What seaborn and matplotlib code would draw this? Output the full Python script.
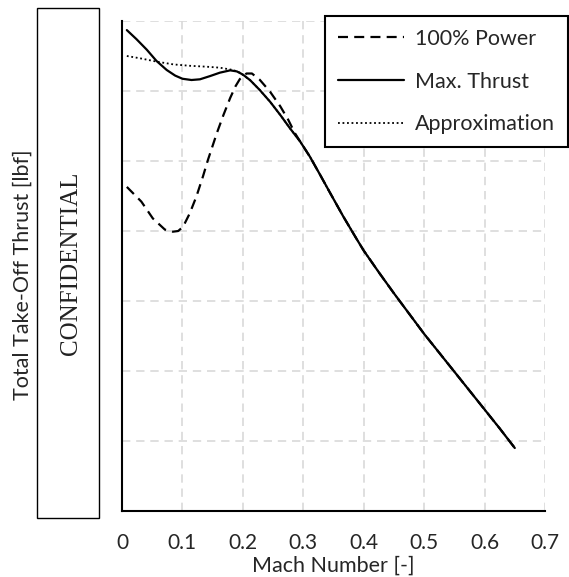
import matplotlib
matplotlib.use("Agg")
import matplotlib.pyplot as plt
from matplotlib.patches import Rectangle
import pandas as pd
import seaborn as sns

# Take-off thrust vs. Mach number (thrust in normalised grid units)
mach_max = [0.008, 0.024, 0.041, 0.057, 0.074, 0.088, 0.100, 0.115, 0.129, 0.146,
            0.162, 0.179, 0.190, 0.200, 0.212, 0.228, 0.245, 0.262, 0.278, 0.295,
            0.311, 0.328, 0.344, 0.366, 0.388, 0.400, 0.425, 0.450, 0.475, 0.500,
            0.525, 0.550, 0.575, 0.600, 0.625, 0.650]
thrust_max = [6.87, 6.74, 6.59, 6.43, 6.30, 6.22, 6.175, 6.157, 6.167, 6.214,
              6.262, 6.295, 6.28, 6.235, 6.155, 6.014, 5.847, 5.657, 5.467, 5.276,
              5.061, 4.80, 4.55, 4.21, 3.89, 3.72, 3.41, 3.11, 2.82, 2.53,
              2.26, 1.99, 1.72, 1.45, 1.18, 0.90]

mach_power = [0.008, 0.032, 0.051, 0.071, 0.084, 0.093, 0.101, 0.112, 0.123, 0.134,
              0.142, 0.157, 0.168, 0.179, 0.188, 0.195, 0.206, 0.215, 0.228, 0.245,
              0.262, 0.275, 0.286, 0.295, 0.311, 0.328, 0.344, 0.366, 0.388, 0.400,
              0.425, 0.450, 0.475, 0.500, 0.525, 0.550, 0.575, 0.600, 0.625, 0.650]
thrust_power = [4.63, 4.42, 4.18, 4.02, 3.99, 4.00, 4.06, 4.25, 4.49, 4.78,
                5.01, 5.40, 5.66, 5.90, 6.07, 6.17, 6.25, 6.25, 6.16, 5.99,
                5.78, 5.59, 5.40, 5.276, 5.061, 4.80, 4.55, 4.21, 3.89, 3.72,
                3.41, 3.11, 2.82, 2.53, 2.26, 1.99, 1.72, 1.45, 1.18, 0.90]

mach_approx = [0.008, 0.030, 0.057, 0.085, 0.1125, 0.140, 0.162, 0.184, 0.195, 0.212,
               0.228, 0.245, 0.262, 0.278, 0.295, 0.311, 0.328, 0.344, 0.366, 0.388,
               0.400, 0.425, 0.450, 0.475, 0.500, 0.525, 0.550, 0.575, 0.600, 0.625,
               0.650]
thrust_approx = [6.50, 6.467, 6.42, 6.38, 6.36, 6.347, 6.333, 6.30, 6.262, 6.155,
                 6.014, 5.847, 5.657, 5.467, 5.276, 5.061, 4.80, 4.55, 4.21, 3.89,
                 3.72, 3.41, 3.11, 2.82, 2.53, 2.26, 1.99, 1.72, 1.45, 1.18,
                 0.90]

x_ticks = [0, 0.1, 0.2, 0.3, 0.4, 0.5, 0.6, 0.7]
x_tick_labels = ["0", "0.1", "0.2", "0.3", "0.4", "0.5", "0.6", "0.7"]
y_grid = [0, 1, 2, 3, 4, 5, 6, 7]

sns.set_style("white")
plt.rcParams["font.family"] = ["Lato", "DejaVu Sans"]

W, H = 569, 577
FS = 15.5
fig = plt.figure(figsize=(W / 100, H / 100), dpi=100)
ax = fig.add_axes([122 / W, 1 - 511 / H, (545 - 122) / W, (511 - 21) / H])

df_power = pd.DataFrame({"Mach": mach_power, "Thrust": thrust_power})
df_max = pd.DataFrame({"Mach": mach_max, "Thrust": thrust_max})
df_approx = pd.DataFrame({"Mach": mach_approx, "Thrust": thrust_approx})

sns.lineplot(data=df_approx, x="Mach", y="Thrust", ax=ax, color="black",
             linewidth=1.3, linestyle=(0, (1, 1.5)), sort=False,
             label="Approximation", zorder=3)
sns.lineplot(data=df_max, x="Mach", y="Thrust", ax=ax, color="black",
             linewidth=1.6, sort=False, label="Max. Thrust", zorder=4)
sns.lineplot(data=df_power, x="Mach", y="Thrust", ax=ax, color="black",
             linewidth=1.6, linestyle=(0, (4.5, 2.8)), sort=False,
             label="100% Power", zorder=5)

ax.set_xlim(0, 0.7)
ax.set_ylim(0, 7)
ax.set_xticks(x_ticks)
ax.set_xticklabels(x_tick_labels)
ax.set_yticks(y_grid)
ax.set_yticklabels([])
ax.tick_params(axis="both", length=0)
ax.tick_params(axis="x", labelsize=15, pad=16)
ax.grid(True, color="#d9d9d9", linestyle=(0, (5, 3.5)), linewidth=1.2)
ax.set_axisbelow(True)
for side in ("top", "right"):
    ax.spines[side].set_visible(False)
for side in ("left", "bottom"):
    ax.spines[side].set_color("black")
    ax.spines[side].set_linewidth(1.5)

ax.set_xlabel("Mach Number [-]", fontsize=FS, labelpad=1.5)
ax.set_ylabel("")

# legend in the order 100% Power / Max. Thrust / Approximation
handles, labels = ax.get_legend_handles_labels()
order = [labels.index(l) for l in ["100% Power", "Max. Thrust", "Approximation"]]
leg = ax.legend([handles[i] for i in order], [labels[i] for i in order],
                loc="upper right", bbox_to_anchor=(568 / W, 1 - 16 / H),
                bbox_transform=fig.transFigure, frameon=True, fancybox=False,
                fontsize=FS, handlelength=3.1, handletextpad=0.5,
                labelspacing=1.05, borderpad=0.6, borderaxespad=0)
leg.get_frame().set_edgecolor("black")
leg.get_frame().set_linewidth(1.5)
leg.get_frame().set_alpha(1)

# y-axis title and the redacted scale box
fig.text(23 / W, 1 - 275 / H, "Total Take-Off Thrust [lbf]", rotation=90,
         ha="center", va="center", fontsize=FS)
fig.add_artist(Rectangle((37 / W, 1 - 518 / H), (99 - 37) / W, (518 - 8) / H,
                         transform=fig.transFigure, fill=False,
                         edgecolor="black", linewidth=1.0))
fig.text(71 / W, 1 - 263 / H, "CONFIDENTIAL", rotation=90, ha="center",
         va="center", fontsize=18, family=["Liberation Serif"], color="#222222")

fig.savefig("out.png", dpi=100)
